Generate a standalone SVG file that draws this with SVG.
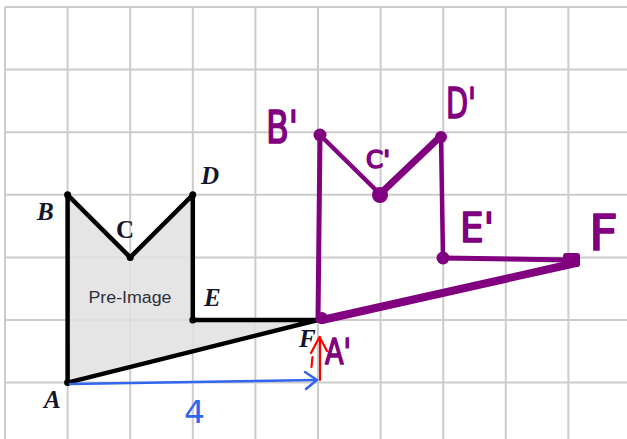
<svg xmlns="http://www.w3.org/2000/svg" width="627" height="439" viewBox="0 0 627 439">
<style>
.grid line{stroke:#cccccc;stroke-width:2}
.lbl{font-family:"Liberation Serif",serif;font-weight:bold;font-style:italic;font-size:25px;fill:#14142a}
.hand{font-family:"DejaVu Sans",sans-serif;fill:#800080;stroke:#800080;stroke-width:1.6;stroke-linejoin:round}
.pur{stroke:#800080;stroke-linecap:round;stroke-linejoin:round;fill:none}
</style>
<rect width="627" height="439" fill="#ffffff"/>
<g class="grid">
<line x1="5" y1="7" x2="5" y2="439"/>
<line x1="67.6" y1="7" x2="67.6" y2="439"/>
<line x1="130.2" y1="7" x2="130.2" y2="439"/>
<line x1="192.8" y1="7" x2="192.8" y2="439"/>
<line x1="255.4" y1="7" x2="255.4" y2="439"/>
<line x1="318" y1="7" x2="318" y2="439"/>
<line x1="380.6" y1="7" x2="380.6" y2="439"/>
<line x1="443.2" y1="7" x2="443.2" y2="439"/>
<line x1="505.8" y1="7" x2="505.8" y2="439"/>
<line x1="568.4" y1="7" x2="568.4" y2="439"/>
<line x1="5" y1="7" x2="627" y2="7"/>
<line x1="5" y1="69.6" x2="627" y2="69.6"/>
<line x1="5" y1="132.2" x2="627" y2="132.2"/>
<line x1="5" y1="194.8" x2="627" y2="194.8"/>
<line x1="5" y1="257.4" x2="627" y2="257.4"/>
<line x1="5" y1="320" x2="627" y2="320"/>
<line x1="5" y1="382.6" x2="627" y2="382.6"/>
</g>
<g id="preimage">
<polygon points="67.6,382.6 67.6,194.8 130.2,257.4 192.8,194.8 192.8,320 318,320" fill="#e0e0e0" fill-opacity="0.85" stroke="#000" stroke-width="4.5" stroke-linejoin="round"/>
<g fill="#000">
<circle cx="67.6" cy="382.6" r="3.5"/><circle cx="67.6" cy="194.8" r="3.5"/><circle cx="130.2" cy="257.4" r="3.5"/><circle cx="192.8" cy="194.8" r="3.5"/><circle cx="192.8" cy="320" r="3.5"/>
</g>
<text x="130" y="303" font-family="Liberation Sans,sans-serif" font-size="16" fill="#2e2e3a" text-anchor="middle" textLength="83" lengthAdjust="spacingAndGlyphs">Pre-Image</text>
<text class="lbl" x="37" y="220">B</text>
<text class="lbl" x="116" y="238" style="font-style:normal">C</text>
<text class="lbl" x="201" y="184">D</text>
<text class="lbl" x="204" y="306">E</text>
<text class="lbl" x="44" y="408">A</text>
<text class="lbl" x="299" y="347">F</text>
</g>
<g id="connectors">
<g id="blue-arrow" fill="none" stroke="#3366ee" stroke-width="2.5" stroke-linecap="round" stroke-linejoin="round">
<path d="M70,384 Q190,382 316,380"/>
<path d="M305,372 L317,380 L306,389"/>
</g>
<text x="184" y="423" font-family="DejaVu Sans,sans-serif" font-size="32" fill="#3366ee" textLength="21" lengthAdjust="spacingAndGlyphs">4</text>
<g id="red-arrow" fill="none" stroke="#ff0000" stroke-width="2.2" stroke-linecap="round" stroke-linejoin="round">
<path d="M320,380 L320,337"/>
<path d="M311,353 L319.5,337 L327,351"/>
<path d="M312.5,357 L311.5,367"/>
</g>
</g>
<g id="image">
<path class="pur" stroke-width="5" d="M320,135 L318,320"/>
<path class="pur" stroke-width="4.5" d="M320,135 L380,194"/>
<path class="pur" stroke-width="7" d="M380,194 L441,136"/>
<path class="pur" stroke-width="4.5" d="M441,136 L443,258"/>
<path class="pur" stroke-width="5" d="M443,258 L572,260"/>
<path class="pur" stroke-width="8" d="M576,263 L322,320"/>
<g fill="#800080">
<circle cx="320" cy="135" r="6.5"/>
<circle cx="380" cy="195" r="8"/>
<circle cx="441" cy="137" r="6"/>
<circle cx="443" cy="258" r="6.5"/>
<rect x="563" y="253" width="17" height="14" rx="3"/>
<circle cx="322" cy="318" r="6"/>
</g>
<text class="hand" x="266" y="143" font-size="44" textLength="32" lengthAdjust="spacingAndGlyphs">B'</text>
<text class="hand" x="366" y="168" font-size="24" textLength="24" lengthAdjust="spacingAndGlyphs">C'</text>
<text class="hand" x="446" y="118" font-size="42" textLength="30" lengthAdjust="spacingAndGlyphs">D'</text>
<text class="hand" x="460" y="242" font-size="40" textLength="34" lengthAdjust="spacingAndGlyphs">E'</text>
<text class="hand" x="589" y="250" font-size="50" textLength="29" lengthAdjust="spacingAndGlyphs">F</text>
<text class="hand" x="325" y="364" font-size="36" textLength="26" lengthAdjust="spacingAndGlyphs">A'</text>
</g>
</svg>
